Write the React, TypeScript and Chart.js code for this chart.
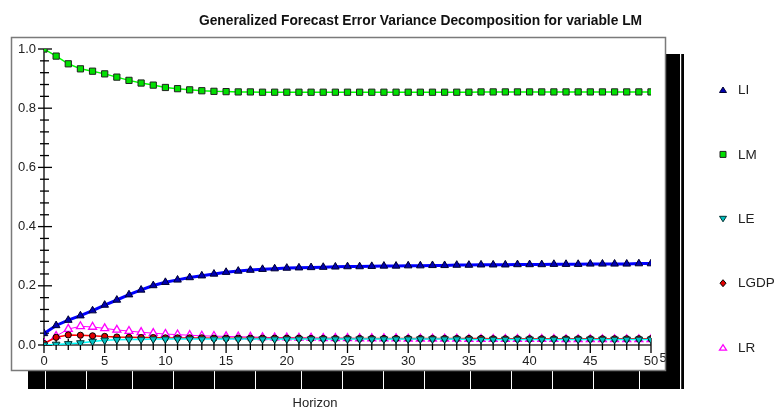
import React, { useEffect, useRef } from "react";
import { Chart, registerables } from "chart.js";

Chart.register(...registerables);

const horizons = [0,1,2,3,4,5,6,7,8,9,10,11,12,13,14,15,16,17,18,19,20,21,22,23,24,25,26,27,28,29,30,31,32,33,34,35,36,37,38,39,40,41,42,43,44,45,46,47,48,49,50];

const LI = [0.039,0.066,0.084,0.099,0.116,0.135,0.152,0.170,0.186,0.201,0.212,0.220,0.228,0.234,0.240,0.246,0.250,0.253,0.256,0.258,0.260,0.261,0.262,0.263,0.264,0.265,0.265,0.266,0.267,0.267,0.268,0.268,0.269,0.269,0.270,0.270,0.271,0.271,0.271,0.272,0.272,0.272,0.273,0.273,0.273,0.274,0.274,0.274,0.274,0.275,0.275];

const LM = [1.000,0.976,0.950,0.933,0.925,0.916,0.905,0.894,0.885,0.878,0.870,0.866,0.862,0.859,0.857,0.856,0.855,0.855,0.854,0.854,0.854,0.854,0.854,0.854,0.854,0.854,0.854,0.854,0.854,0.854,0.854,0.854,0.854,0.854,0.854,0.854,0.855,0.855,0.855,0.855,0.855,0.855,0.855,0.855,0.855,0.855,0.855,0.855,0.855,0.855,0.855];

const LE = [0.000,0.002,0.004,0.007,0.012,0.016,0.018,0.019,0.019,0.020,0.020,0.020,0.020,0.020,0.020,0.020,0.020,0.020,0.020,0.020,0.020,0.020,0.020,0.020,0.020,0.020,0.020,0.020,0.020,0.020,0.020,0.020,0.020,0.020,0.020,0.019,0.019,0.019,0.019,0.019,0.019,0.019,0.019,0.019,0.019,0.019,0.019,0.019,0.019,0.019,0.019];

const LGDP = [0.005,0.026,0.034,0.033,0.031,0.029,0.027,0.026,0.025,0.025,0.024,0.024,0.024,0.024,0.023,0.023,0.023,0.023,0.023,0.023,0.023,0.023,0.022,0.022,0.022,0.022,0.022,0.022,0.022,0.022,0.022,0.022,0.022,0.022,0.022,0.022,0.022,0.021,0.021,0.021,0.021,0.021,0.021,0.021,0.021,0.021,0.021,0.021,0.021,0.021,0.021];

const LR = [0.005,0.030,0.054,0.063,0.061,0.056,0.051,0.047,0.043,0.040,0.037,0.035,0.033,0.031,0.030,0.029,0.028,0.027,0.026,0.025,0.025,0.024,0.024,0.023,0.023,0.023,0.022,0.022,0.022,0.022,0.021,0.021,0.021,0.021,0.021,0.020,0.020,0.020,0.020,0.020,0.020,0.020,0.020,0.019,0.019,0.019,0.019,0.019,0.019,0.019,0.019];

const xTickValues = [0,5,10,15,20,25,30,35,40,45,50];
const yTickValues = [0,0.2,0.4,0.6,0.8,1.0];

const TITLE = "Generalized Forecast Error Variance Decomposition for variable LM";
const X_TITLE = "Horizon";
const FONT = "'Liberation Sans', Arial, sans-serif";

type Series = { label: string; data: number[]; line: string; width: number; fill: string; stroke: string; style: string; rot: number; r: number };

const seriesList: Series[] = [
  { label: "LI", data: LI, line: "#0000ff", width: 3, fill: "#0000b0", stroke: "#000030", style: "triangle", rot: 0, r: 4.4 },
  { label: "LM", data: LM, line: "#00ff00", width: 1.5, fill: "#00e000", stroke: "#202020", style: "rect", rot: 0, r: 4.4 },
  { label: "LE", data: LE, line: "#00ffff", width: 1.5, fill: "#00c0c0", stroke: "#003030", style: "triangle", rot: 180, r: 4.4 },
  { label: "LGDP", data: LGDP, line: "#ff0000", width: 1.5, fill: "#e00000", stroke: "#000000", style: "circle", rot: 0, r: 3.1 },
  { label: "LR", data: LR, line: "#ff00ff", width: 1, fill: "#ffffff", stroke: "#ff00ff", style: "triangle", rot: 0, r: 4.6 },
];

function legendMarker(ctx: CanvasRenderingContext2D, s: Series, x: number, y: number) {
  ctx.save();
  ctx.beginPath();
  const r = 3.5;
  if (s.style === "rect") {
    ctx.rect(x - 3, y - 3, 6, 6);
  } else if (s.style === "circle") {
    ctx.moveTo(x, y - 3.5); ctx.lineTo(x + 3, y); ctx.lineTo(x, y + 3.5); ctx.lineTo(x - 3, y); ctx.closePath();
  } else if (s.rot === 180) {
    ctx.moveTo(x - r, y - 2.5); ctx.lineTo(x + r, y - 2.5); ctx.lineTo(x, y + 3); ctx.closePath();
  } else {
    ctx.moveTo(x - r, y + 2.5); ctx.lineTo(x + r, y + 2.5); ctx.lineTo(x, y - 3); ctx.closePath();
  }
  ctx.fillStyle = s.fill;
  ctx.fill();
  ctx.lineWidth = s.style === "triangle" && s.fill === "#ffffff" ? 1.3 : 1;
  ctx.strokeStyle = s.stroke;
  ctx.stroke();
  ctx.restore();
}

const decorPlugin = {
  id: "decor",
  beforeDraw(chart: any) {
    const ctx = chart.ctx as CanvasRenderingContext2D;
    ctx.save();
    ctx.fillStyle = "#ffffff";
    ctx.fillRect(0, 0, chart.width, chart.height);
    // shadow bars
    ctx.fillStyle = "#000000";
    ctx.fillRect(28, 371, 656, 18);
    ctx.fillRect(666, 54, 18, 335);
    ctx.fillStyle = "#ffffff";
    const seps = [45, 86, 132, 173, 214, 255, 301, 342, 383, 424, 470, 511, 552, 593, 639];
    for (const s of seps) ctx.fillRect(s, 371, 1, 18);
    ctx.fillRect(680, 54, 1.2, 335);
    // frame
    ctx.fillStyle = "#ffffff";
    ctx.fillRect(12, 38, 653, 332);
    ctx.strokeStyle = "#7a7a7a";
    ctx.lineWidth = 1.5;
    ctx.strokeRect(11.5, 37.5, 654, 333);
    ctx.restore();
  },
  beforeDatasetsDraw(chart: any) {
    const ctx = chart.ctx as CanvasRenderingContext2D;
    const xs = chart.scales.x;
    const ys = chart.scales.y;
    const x0 = xs.getPixelForValue(0);
    const x1 = xs.getPixelForValue(50);
    const y0 = ys.getPixelForValue(0);
    const y1 = ys.getPixelForValue(1);
    ctx.save();
    ctx.strokeStyle = "#000000";
    ctx.lineWidth = 1.3;
    ctx.beginPath();
    ctx.moveTo(x0, y1); ctx.lineTo(x0, y0);
    ctx.stroke();
    ctx.strokeStyle = "#333333";
    ctx.beginPath();
    ctx.moveTo(x0, y0); ctx.lineTo(x1, y0);
    ctx.stroke();
    ctx.strokeStyle = "#000000";
    for (let i = 0; i <= 25; i++) {
      const py = ys.getPixelForValue(i * 0.04);
      const major = i % 5 === 0;
      ctx.beginPath();
      ctx.moveTo(x0 - (major ? 6 : 4), py);
      ctx.lineTo(x0 + (major ? 8 : 5), py);
      ctx.stroke();
    }
    for (let i = 0; i <= 50; i++) {
      const px = xs.getPixelForValue(i);
      const major = i % 5 === 0;
      ctx.beginPath();
      ctx.moveTo(px, y0 - (major ? 7 : 6));
      ctx.lineTo(px, y0 + (major ? 8 : 5));
      ctx.stroke();
    }
    ctx.restore();
  },
  afterDraw(chart: any) {
    const ctx = chart.ctx as CanvasRenderingContext2D;
    ctx.save();
    ctx.fillStyle = "#111111";
    ctx.textAlign = "center";
    ctx.textBaseline = "middle";
    ctx.font = `bold 13.8px ${FONT}`;
    ctx.fillText(TITLE, 420.5, 21.5);
    ctx.font = `13px ${FONT}`;
    ctx.fillStyle = "#222222";
    ctx.fillText(X_TITLE, 315, 403);
    ctx.save();
    ctx.beginPath();
    ctx.rect(655, 345, 10.5, 25);
    ctx.clip();
    ctx.font = `13px ${FONT}`;
    ctx.textAlign = "left";
    ctx.fillText("5", 659.5, 358.5);
    ctx.restore();
    ctx.textAlign = "left";
    ctx.font = `13.5px ${FONT}`;
    seriesList.forEach((s, i) => {
      const y = 90 + i * 64.4;
      legendMarker(ctx, s, 723, y);
      ctx.fillStyle = "#222222";
      ctx.fillText(s.label, 738, y + 0.5);
    });
    ctx.restore();
  },
};

export default function App() {
  const ref = useRef<HTMLCanvasElement | null>(null);
  useEffect(() => {
    document.body.style.margin = "0";
    if (!ref.current) return;
    const chart = new Chart(ref.current, {
      type: "line",
      data: {
        labels: horizons,
        datasets: seriesList.map((s) => ({
          label: s.label,
          data: s.data.map((v, i) => ({ x: horizons[i], y: v })),
          borderColor: s.line,
          borderWidth: s.width,
          backgroundColor: s.fill,
          pointBackgroundColor: s.fill,
          pointBorderColor: s.stroke,
          pointBorderWidth: s.fill === "#ffffff" ? 1.3 : 1,
          pointStyle: s.style as any,
          pointRotation: s.rot,
          pointRadius: s.r,
          pointHoverRadius: s.r,
          tension: 0,
          fill: false,
        })),
      },
      options: {
        animation: false,
        responsive: true,
        maintainAspectRatio: false,
        events: [],
        layout: { padding: { left: 0, top: 49, right: 124, bottom: 0 } },
        plugins: { legend: { display: false }, title: { display: false }, tooltip: { enabled: false } },
        scales: {
          x: {
            type: "linear",
            min: 0,
            max: 50,
            afterFit: (s: any) => { s.height = 63; },
            afterBuildTicks: (s: any) => { s.ticks = xTickValues.map((v) => ({ value: v })); },
            grid: { display: false, drawTicks: false },
            border: { display: false },
            ticks: { padding: 9, font: { family: FONT, size: 13 }, color: "#222222", maxRotation: 0, autoSkip: false },
          },
          y: {
            type: "linear",
            min: 0,
            max: 1.0,
            afterFit: (s: any) => { s.width = 44; },
            afterBuildTicks: (s: any) => { s.ticks = yTickValues.map((v) => ({ value: v })); },
            grid: { display: false, drawTicks: false },
            border: { display: false },
            ticks: { padding: 8, font: { family: FONT, size: 13 }, color: "#222222", callback: (v: any) => Number(v).toFixed(1) },
          },
        },
      },
      plugins: [decorPlugin],
    });
    return () => chart.destroy();
  }, []);
  return (
    <div style={{ position: "absolute", left: 0, top: 0, width: 775, height: 408 }}>
      <canvas ref={ref} />
    </div>
  );
}
